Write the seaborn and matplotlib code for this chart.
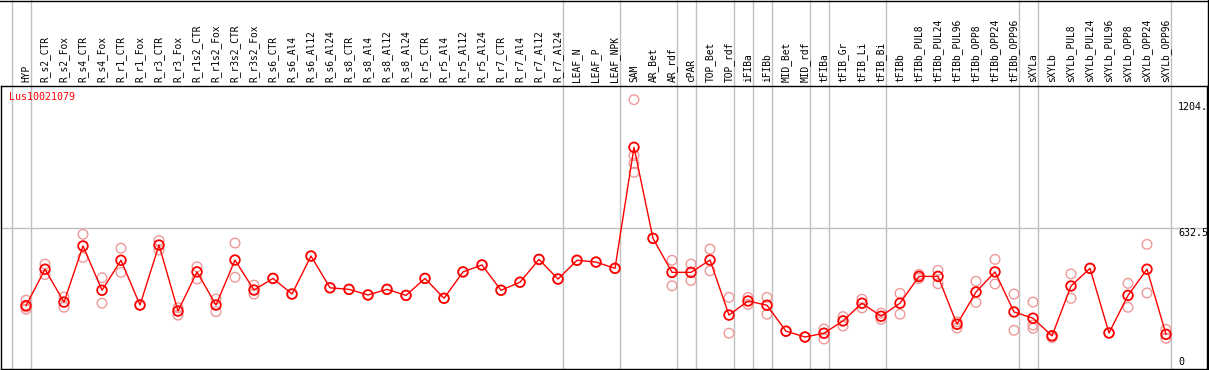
import numpy as np
import pandas as pd
import matplotlib
matplotlib.use("Agg")
import matplotlib.pyplot as plt
from matplotlib.path import Path
from matplotlib.lines import Line2D
import matplotlib.transforms as mtransforms
import seaborn as sns

# ---------------- data ----------------
gene = "Lus10021079"

categories = [
    "HYP", "R_s2_CTR", "R_s2_Fox", "R_s4_CTR", "R_s4_Fox", "R_r1_CTR", "R_r1_Fox",
    "R_r3_CTR", "R_r3_Fox", "R_r1s2_CTR", "R_r1s2_Fox", "R_r3s2_CTR", "R_r3s2_Fox",
    "R_s6_CTR", "R_s6_Al4", "R_s6_Al12", "R_s6_Al24", "R_s8_CTR", "R_s8_Al4",
    "R_s8_Al12", "R_s8_Al24", "R_r5_CTR", "R_r5_Al4", "R_r5_Al12", "R_r5_Al24",
    "R_r7_CTR", "R_r7_Al4", "R_r7_Al12", "R_r7_Al24", "LEAF_N", "LEAF_P", "LEAF_NPK",
    "SAM", "AR_Bet", "AR_rdf", "cPAR", "TOP_Bet", "TOP_rdf", "iFIBa", "iFIBb",
    "MID_Bet", "MID_rdf", "tFIBa", "tFIB_Gr", "tFIB_Li", "tFIB_Bi", "tFIBb",
    "tFIBb_PUL8", "tFIBb_PUL24", "tFIBb_PUL96", "tFIBb_OPP8", "tFIBb_OPP24",
    "tFIBb_OPP96", "sXYLa", "sXYLb", "sXYLb_PUL8", "sXYLb_PUL24", "sXYLb_PUL96",
    "sXYLb_OPP8", "sXYLb_OPP24", "sXYLb_OPP96",
]

means = [
    283, 446, 299, 550, 352, 486, 286, 554, 259, 434, 286, 487, 353,
    405, 335, 505, 363, 356, 331, 356, 329, 405, 316, 434, 465,
    352, 388, 490, 402, 486, 478, 450,
    991, 584, 432, 432, 487, 241, 304, 285, 169, 143,
    160, 215, 294, 236, 294, 414, 414, 200, 344, 434, 255,
    227, 148, 371, 450, 161, 329, 446, 155,
]

replicates = [
    [308, 277, 267], [469, 422], [322, 276], [602, 499], [408, 294], [540, 432],
    [286, 286], [574, 532], [274, 241], [457, 402], [313, 256], [563, 410],
    [375, 335], [405], [335], [505], [363], [356], [331], [356], [329], [405],
    [316], [434], [465], [352], [388], [490], [402], [486], [478], [450],
    [1204, 954, 919, 879], [584], [486, 372], [469, 396], [536, 439], [320, 160],
    [320, 289], [320, 245], [169], [143], [179, 134], [234, 192], [312, 273],
    [250, 222], [338, 245], [423, 405], [441, 381], [211, 183], [392, 298],
    [490, 380], [335, 173], [299, 197, 182], [140, 150], [425, 316], [450],
    [161], [383, 276], [557, 340], [177, 137],
]

# index of the last category of each group (group dividers)
group_ends = [-1, 0, 28, 31, 34, 35, 37, 38, 39, 41, 42, 45, 52, 53, 60]

ytick_values = [0, 632.5, 1204]
ytick_labels = ["0", "632.5", "1204."]

# ---------------- build frames ----------------
idx = np.arange(len(categories))
mean_df = pd.DataFrame({"pos": idx, "value": means})
rep_df = pd.DataFrame({
    "pos": [i for i, reps in enumerate(replicates) for _ in reps],
    "value": [v for reps in replicates for v in reps],
})

# ---------------- style ----------------
mono = "DejaVu Sans Mono"
red = "#ff0000"
pink = "#ee9999"
grey = "#c0c0c0"

W, H = 1209, 370
fig = plt.figure(figsize=(W / 100, H / 100), dpi=100)
ax = fig.add_axes([1 / W, 1 / H, 1206 / W, 283 / H])
ax.set_xlim(-1.316, 62.158)
ax.set_ylim(0, 1265)
ax.set_xticks([])
ax.set_yticks([])
for s in ax.spines.values():
    s.set_color("black")
    s.set_linewidth(1.0)

# grid: horizontal mid line and group dividers spanning header too
ax.axhline(632.5, color=grey, lw=1.0, zorder=0)
ext = 1 + 86 / 283
for g in group_ends:
    ax.axvline(g + 0.25, ymin=0, ymax=ext, color=grey, lw=1.0, zorder=0, clip_on=False)

# replicate points
sns.scatterplot(data=rep_df, x="pos", y="value", ax=ax, marker="o", s=48,
                color=pink, facecolor="none", edgecolor=pink, linewidth=1.0,
                zorder=2, legend=False)
# mean line
sns.lineplot(data=mean_df, x="pos", y="value", ax=ax, color=red, lw=1.0,
             zorder=3, legend=False, errorbar=None)
# mean markers
sns.scatterplot(data=mean_df, x="pos", y="value", ax=ax, marker="o", s=48,
                color=red, facecolor="none", edgecolor=red, linewidth=1.3,
                zorder=4, legend=False)
for coll in ax.collections:
    coll.set_facecolor("none")
ax.set_xlabel("")
ax.set_ylabel("")

# header labels
trans = mtransforms.blended_transform_factory(ax.transData, ax.transAxes)
for i, c in enumerate(categories):
    ax.text(i, 1 + 3.5 / 283, c, rotation=90, ha="center", va="bottom",
            fontsize=6.9, family=mono, transform=trans, clip_on=False)

# gene label
ax.text((9.3 - 1) / 1206, (369 - 97) / 283, gene, color=red, fontsize=7.2,
        family=mono, ha="left", va="center", transform=ax.transAxes)

# y tick labels (inside right side)
offsets = {0: 5.3, 632.5: -3.7, 1204: -5.1}
for v, lab in zip(ytick_values, ytick_labels):
    ax.annotate(lab, xy=(60.63, v), xycoords="data", xytext=(0, offsets[v]),
                textcoords="offset points", ha="left", va="center",
                fontsize=7.2, family=mono, color="black")

# outer frame of the header
fig.add_artist(Line2D([0, 1], [1 - 0.5 / H, 1 - 0.5 / H], transform=fig.transFigure,
                      color="black", lw=1.0))
fig.add_artist(Line2D([1207.5 / W, 1207.5 / W], [0, 1], transform=fig.transFigure,
                      color="black", lw=1.0))

fig.savefig("out.png", dpi=100)
